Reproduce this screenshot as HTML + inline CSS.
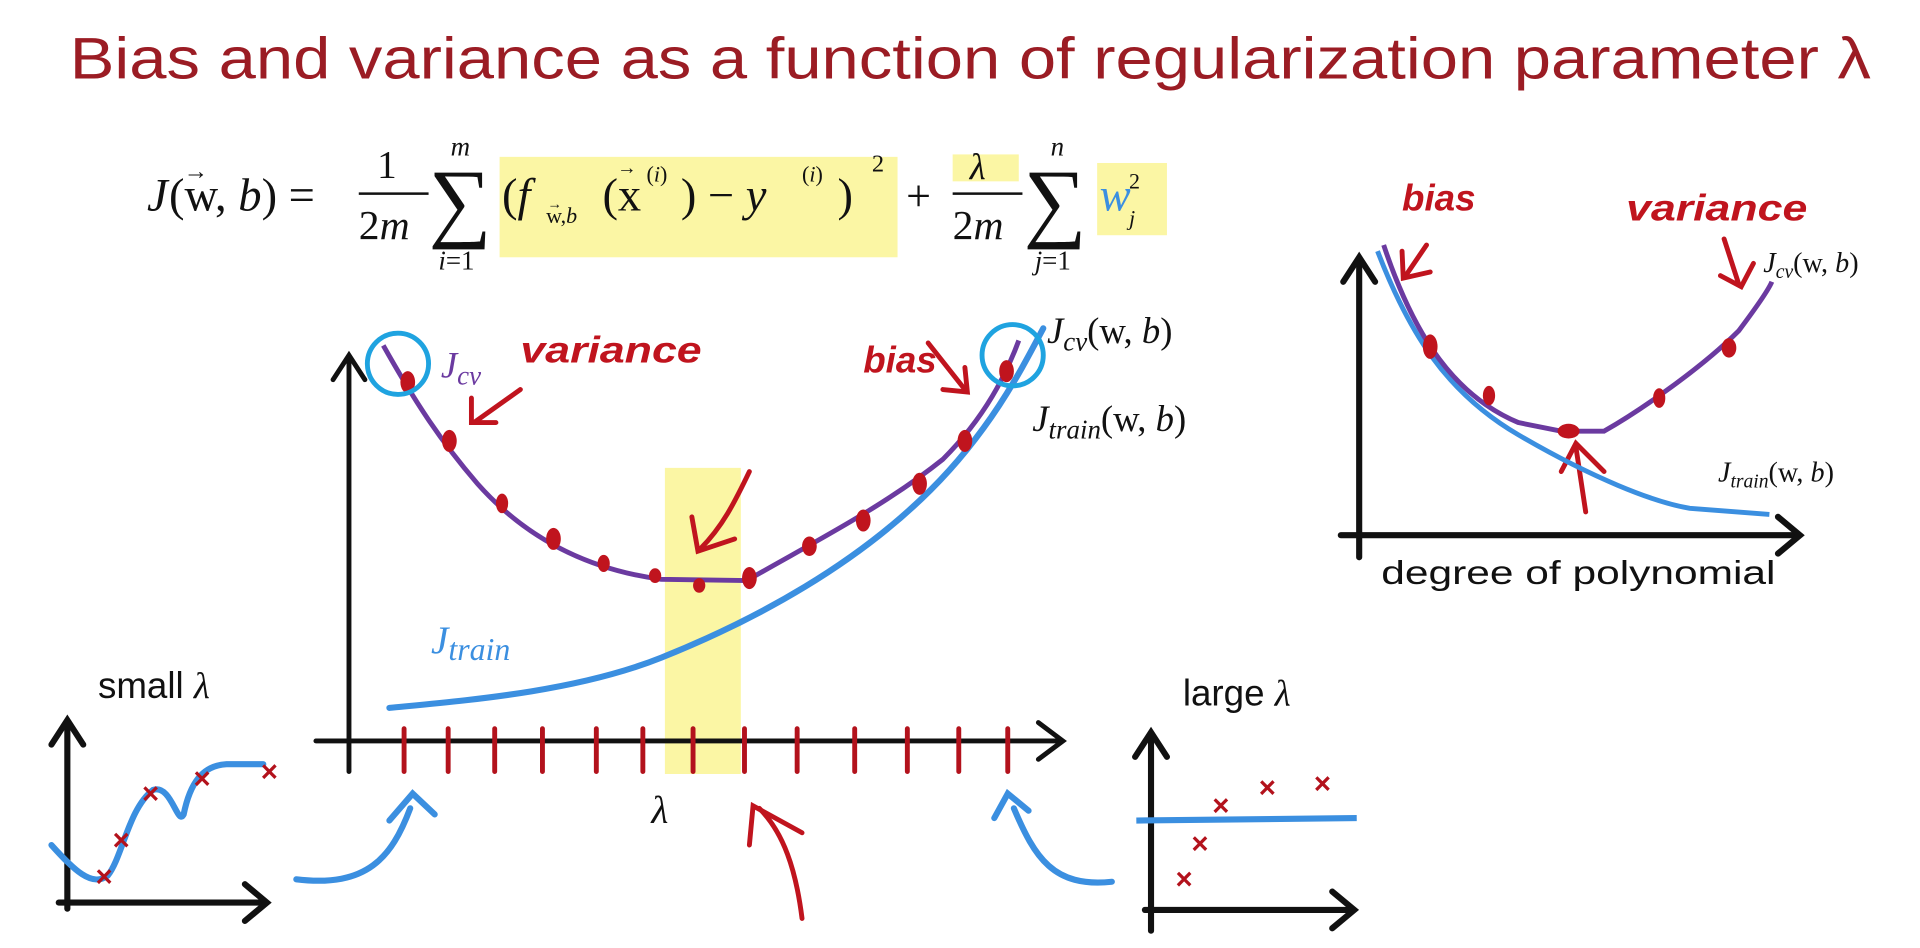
<!DOCTYPE html>
<html><head><meta charset="utf-8"><style>
html,body{margin:0;padding:0;background:#fff;}
svg{display:block;}
.ser{font-family:"Liberation Serif",serif;font-style:italic;}
.sans{font-family:"Liberation Sans",sans-serif;}
</style></head><body>
<svg width="1920" height="948" viewBox="0 0 1568 774" xmlns="http://www.w3.org/2000/svg">
<rect width="1568" height="774" fill="#fff"/>
<!-- title -->
<text x="57" y="64" class="sans" font-size="48" fill="#9b1c24" textLength="1471" lengthAdjust="spacingAndGlyphs">Bias and variance as a function of regularization parameter λ</text>
<!-- formula highlights -->
<rect x="408" y="128" width="325" height="82" fill="#fbf6a4"/>
<rect x="778" y="126" width="54" height="22" fill="#fbf6a4"/>
<rect x="896" y="133" width="57" height="59" fill="#fbf6a4"/>
<g font-family="Liberation Serif,serif" fill="#111">
<text x="120" y="172" font-size="38" font-style="italic">J</text>
<text x="138" y="172" font-size="38">(w, <tspan font-style="italic">b</tspan>) =</text>
<text x="150" y="146" font-size="20">→</text>
<text x="308" y="145" font-size="32">1</text>
<line x1="293" y1="158" x2="350" y2="158" stroke="#111" stroke-width="2"/>
<text x="293" y="195" font-size="34">2<tspan font-style="italic">m</tspan></text>
<text x="350" y="188" font-size="72">∑</text>
<text x="368" y="127" font-size="22" font-style="italic">m</text>
<text x="358" y="220" font-size="22"><tspan font-style="italic">i</tspan>=1</text>
<text x="410" y="172" font-size="38">(<tspan font-style="italic">f</tspan></text>
<text x="446" y="182" font-size="18">w,<tspan font-style="italic">b</tspan></text>
<text x="447" y="170" font-size="12">→</text>
<text x="492" y="172" font-size="38">(x</text>
<text x="504" y="142" font-size="16">→</text>
<text x="528" y="148" font-size="18">(<tspan font-style="italic">i</tspan>)</text>
<text x="556" y="172" font-size="38">) − <tspan font-style="italic">y</tspan></text>
<text x="655" y="148" font-size="18">(<tspan font-style="italic">i</tspan>)</text>
<text x="684" y="172" font-size="38">)</text>
<text x="712" y="140" font-size="20">2</text>
<text x="740" y="172" font-size="36">+</text>
<text x="792" y="146" font-size="30" font-style="italic">λ</text>
<line x1="778" y1="158" x2="835" y2="158" stroke="#111" stroke-width="2"/>
<text x="778" y="195" font-size="34">2<tspan font-style="italic">m</tspan></text>
<text x="836" y="188" font-size="72">∑</text>
<text x="858" y="127" font-size="22" font-style="italic">n</text>
<text x="845" y="220" font-size="22"><tspan font-style="italic">j</tspan>=1</text>
<text x="898" y="172" font-size="38" font-style="italic" fill="#3b8fe0">w</text>
<text x="922" y="184" font-size="18" font-style="italic">j</text>
<text x="922" y="154" font-size="18">2</text>
</g>
<!-- main chart -->
<rect x="543" y="382" width="62" height="250" fill="#fbf6a4"/>
<g stroke="#111" stroke-width="4" fill="none" stroke-linecap="round">
<line x1="285" y1="630" x2="285" y2="292"/><path d="M272,310 L285,290 L298,310"/>
<line x1="258" y1="605" x2="866" y2="605"/><path d="M848,590 L868,605 L848,620"/>
</g>
<g stroke="#b3121c" stroke-width="4" stroke-linecap="round">
<line x1="330" y1="595" x2="330" y2="630"/><line x1="366" y1="595" x2="366" y2="630"/><line x1="404" y1="595" x2="404" y2="630"/><line x1="443" y1="595" x2="443" y2="630"/><line x1="487" y1="595" x2="487" y2="630"/><line x1="525" y1="595" x2="525" y2="630"/><line x1="566" y1="595" x2="566" y2="630"/><line x1="608" y1="595" x2="608" y2="630"/><line x1="651" y1="595" x2="651" y2="630"/><line x1="698" y1="595" x2="698" y2="630"/><line x1="741" y1="595" x2="741" y2="630"/><line x1="783" y1="595" x2="783" y2="630"/><line x1="823" y1="595" x2="823" y2="630"/>
</g>
<text x="532" y="672" class="ser" font-size="32" fill="#111">λ</text>
<path d="M318,578 C380,572 470,565 540,537 C620,505 700,460 760,400 C810,350 835,300 852,268" stroke="#3b8fe0" stroke-width="5" fill="none" stroke-linecap="round"/>
<path d="M313,282 C340,330 360,360 390,395 C430,440 480,465 540,473 L610,474 C660,445 720,415 770,375 C805,340 822,305 832,278" stroke="#6b3aa0" stroke-width="4" fill="none"/>
<g fill="#c0141e">
<ellipse cx="333" cy="312" rx="6" ry="9"/><ellipse cx="367" cy="360" rx="6" ry="9"/><ellipse cx="410" cy="411" rx="5" ry="8"/><ellipse cx="452" cy="440" rx="6" ry="9"/><ellipse cx="493" cy="460" rx="5" ry="7"/><ellipse cx="535" cy="470" rx="5" ry="6"/><ellipse cx="571" cy="478" rx="5" ry="6"/><ellipse cx="612" cy="472" rx="6" ry="9"/><ellipse cx="661" cy="446" rx="6" ry="8"/><ellipse cx="705" cy="425" rx="6" ry="9"/><ellipse cx="751" cy="395" rx="6" ry="9"/><ellipse cx="788" cy="360" rx="6" ry="9"/><ellipse cx="822" cy="303" rx="6" ry="9"/>
</g>
<circle cx="325" cy="297" r="25" stroke="#1fa3e0" stroke-width="4" fill="none"/>
<circle cx="827" cy="290" r="25" stroke="#1fa3e0" stroke-width="4" fill="none"/>
<text x="360" y="308" class="ser" font-size="30" fill="#6b3aa0">J<tspan font-size="22" dy="6">cv</tspan></text>
<text x="425" y="296" class="sans" font-size="30" font-style="italic" font-weight="bold" fill="#c0141e" textLength="148" lengthAdjust="spacingAndGlyphs">variance</text>
<text x="705" y="304" class="sans" font-size="30" font-style="italic" font-weight="bold" fill="#c0141e">bias</text>
<text x="352" y="533" class="ser" font-size="32" fill="#3b8fe0">J<tspan font-size="26" dy="6">train</tspan></text>
<text x="855" y="280" class="ser" font-size="30" fill="#111">J<tspan font-size="22" dy="6">cv</tspan><tspan dy="-6" font-style="normal">(w, </tspan>b<tspan font-style="normal">)</tspan></text>
<text x="843" y="352" class="ser" font-size="30" fill="#111">J<tspan font-size="22" dy="6">train</tspan><tspan dy="-6" font-style="normal">(w, </tspan>b<tspan font-style="normal">)</tspan></text>
<g stroke="#c0141e" stroke-width="4" fill="none" stroke-linecap="round">
<path d="M425,318 L387,345"/><path d="M385,325 L385,345 L405,345"/>
<path d="M758,280 L788,318"/><path d="M770,318 L790,320 L788,300"/>
<path d="M612,385 C600,410 590,430 572,448"/><path d="M565,422 L570,450 L600,440"/>
<path d="M655,750 C650,710 640,680 620,660"/><path d="M612,690 L615,658 L655,680"/>
<path d="M1295,418 L1287,365"/><path d="M1275,385 L1287,362 L1310,385"/>
<path d="M1165,200 L1148,225"/><path d="M1145,205 L1146,227 L1168,222"/>
<path d="M1408,195 L1420,232"/><path d="M1405,225 L1422,234 L1432,215"/>
</g>
<!-- small lambda -->
<text x="80" y="570" class="sans" font-size="30" fill="#111">small <tspan class="ser">λ</tspan></text>
<g stroke="#111" stroke-width="5" fill="none" stroke-linecap="round">
<line x1="55" y1="742" x2="55" y2="590"/><path d="M42,608 L55,588 L68,608"/>
<line x1="48" y1="737" x2="215" y2="737"/><path d="M200,722 L218,737 L200,752"/>
<line x1="940" y1="760" x2="940" y2="600"/><path d="M927,618 L940,598 L953,618"/>
<line x1="935" y1="743" x2="1103" y2="743"/><path d="M1088,728 L1106,743 L1088,758"/>
<line x1="1110" y1="455" x2="1110" y2="212"/><path d="M1097,230 L1110,210 L1123,230"/>
<line x1="1095" y1="437" x2="1468" y2="437"/><path d="M1452,422 L1470,437 L1452,452"/>
</g>
<path d="M42,690 C60,710 75,725 88,715 C100,700 105,660 125,645 C140,640 145,675 150,665 C155,640 165,625 185,624 L215,624" stroke="#3b8fe0" stroke-width="5" fill="none" stroke-linecap="round"/>
<path d="M242,718 C300,725 320,700 335,660" stroke="#3b8fe0" stroke-width="5" fill="none" stroke-linecap="round"/><path d="M318,670 L337,648 L355,665" stroke="#3b8fe0" stroke-width="5" fill="none" stroke-linecap="round"/>
<path d="M908,720 C860,725 845,700 828,660" stroke="#3b8fe0" stroke-width="5" fill="none" stroke-linecap="round"/><path d="M812,668 L823,648 L840,662" stroke="#3b8fe0" stroke-width="5" fill="none" stroke-linecap="round"/>
<line x1="928" y1="670" x2="1108" y2="668" stroke="#3b8fe0" stroke-width="5"/>
<g class="sans" font-size="24" font-weight="bold" fill="#b3121c" text-anchor="middle">
<text x="85" y="724">×</text><text x="99" y="694">×</text><text x="123" y="656">×</text><text x="165" y="644">×</text><text x="220" y="638">×</text>
<text x="967" y="726">×</text><text x="980" y="697">×</text><text x="997" y="666">×</text><text x="1035" y="651">×</text><text x="1080" y="648">×</text>
</g>
<text x="966" y="576" class="sans" font-size="30" fill="#111">large <tspan class="ser">λ</tspan></text>
<!-- right chart -->
<path d="M1125,205 C1150,270 1180,320 1240,355 C1300,390 1350,410 1380,415 L1445,420" stroke="#3b8fe0" stroke-width="4" fill="none"/>
<path d="M1130,200 C1150,260 1180,320 1240,345 L1275,352 L1310,352 C1340,335 1390,300 1420,270 C1435,250 1445,235 1447,230" stroke="#6b3aa0" stroke-width="4" fill="none"/>
<g fill="#c0141e"><ellipse cx="1168" cy="283" rx="6" ry="10"/><ellipse cx="1216" cy="323" rx="5" ry="8"/><ellipse cx="1281" cy="352" rx="9" ry="6"/><ellipse cx="1355" cy="325" rx="5" ry="8"/><ellipse cx="1412" cy="284" rx="6" ry="8"/></g>
<text x="1145" y="172" class="sans" font-size="30" font-style="italic" font-weight="bold" fill="#c0141e">bias</text>
<text x="1328" y="180" class="sans" font-size="30" font-style="italic" font-weight="bold" fill="#c0141e" textLength="148" lengthAdjust="spacingAndGlyphs">variance</text>
<text x="1440" y="222" class="ser" font-size="23" fill="#111">J<tspan font-size="16" dy="5">cv</tspan><tspan dy="-5" font-style="normal">(w, </tspan>b<tspan font-style="normal">)</tspan></text>
<text x="1403" y="393" class="ser" font-size="23" fill="#111">J<tspan font-size="16" dy="5">train</tspan><tspan dy="-5" font-style="normal">(w, </tspan>b<tspan font-style="normal">)</tspan></text>
<text x="1128" y="477" class="sans" font-size="27" fill="#111" textLength="322" lengthAdjust="spacingAndGlyphs">degree of polynomial</text>
</svg>
</body></html>
